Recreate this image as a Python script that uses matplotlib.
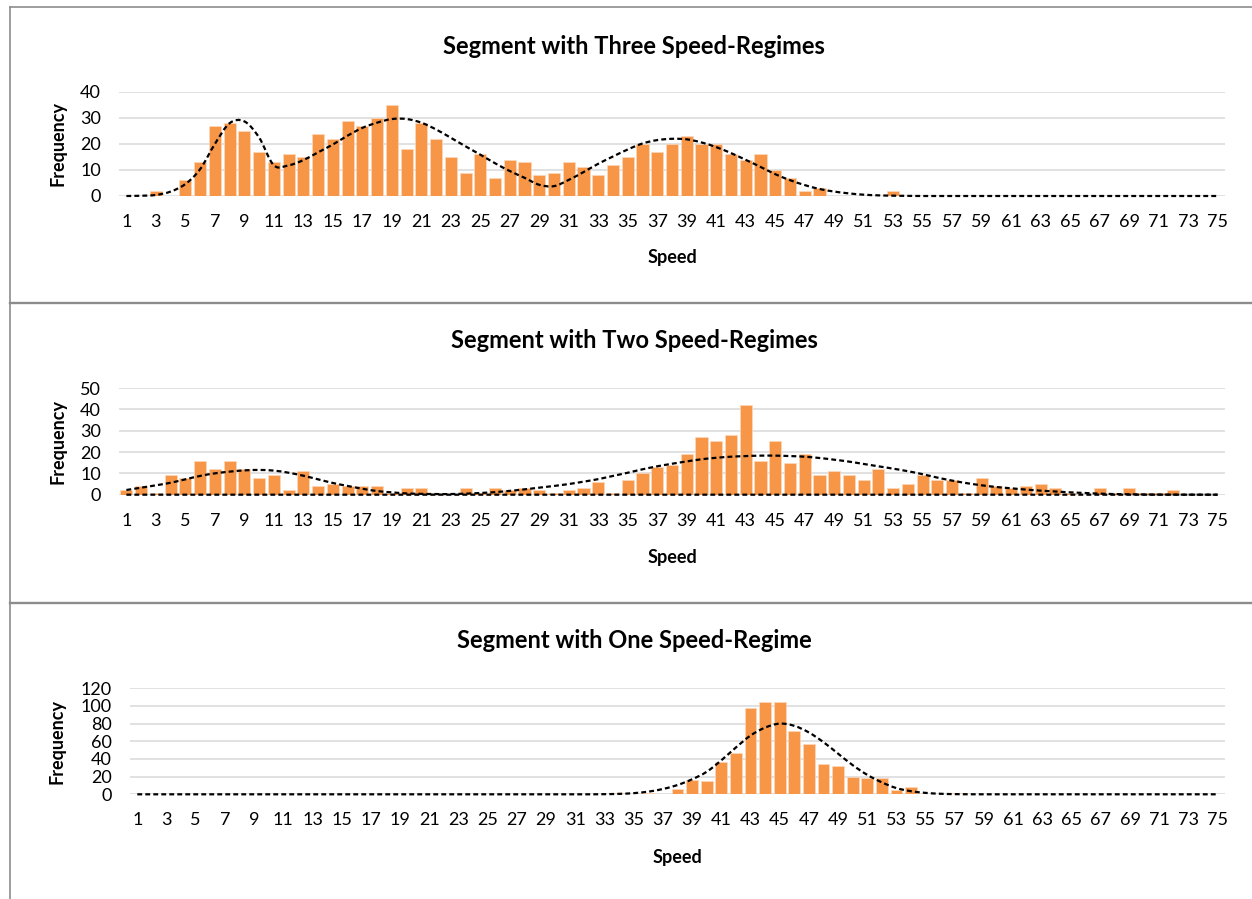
import matplotlib
matplotlib.use("Agg")
import matplotlib.pyplot as plt
from matplotlib.path import Path
from matplotlib.patches import PathPatch
from matplotlib.lines import Line2D

plt.rcParams['font.family'] = ['Lato', 'DejaVu Sans']

# ---------------- data ----------------
speeds = list(range(1, 76))
tick_speeds = list(range(1, 76, 2))

titles = ["Segment with Three Speed-Regimes",
          "Segment with Two Speed-Regimes",
          "Segment with One Speed-Regime"]

three_freq = [0, 0, 2, 0, 6, 13, 27, 28, 25, 17,
              13, 16, 15, 24, 22, 29, 27, 30, 35, 18,
              28, 22, 15, 9, 16, 7, 14, 13, 8, 9,
              13, 11, 8, 12, 15, 20, 17, 20, 23, 20,
              20, 16, 14, 16, 10, 7, 2, 3, 0, 0,
              0, 0, 2, 0, 0, 0, 0, 0, 0, 0,
              0, 0, 0, 0, 0, 0, 0, 0, 0, 0,
              0, 0, 0, 0, 0]
three_fit = [0, 0.1, 0.4, 1.7, 4.6, 10.3, 20.0, 28.0, 28.7, 22.5,
             11.8, 11.8, 13.8, 16.8, 19.8, 23.2, 26.2, 28.2, 29.6, 29.6,
             28.2, 25.6, 22.4, 19.1, 15.9, 12.6, 9.6, 7.0, 4.3, 3.8,
             6.2, 9.2, 12.4, 15.2, 17.9, 20.2, 21.5, 22.0, 21.8, 20.6,
             18.8, 16.5, 13.9, 11.2, 8.4, 6.1, 4.2, 2.7, 1.7, 1.0,
             0.5, 0.25, 0.12, 0.05, 0, 0, 0, 0, 0, 0,
             0, 0, 0, 0, 0, 0, 0, 0, 0, 0,
             0, 0, 0, 0, 0]

two_freq = [2, 4, 1, 9, 8, 16, 12, 16, 12, 8,
            9, 2, 11, 4, 5, 4, 4, 4, 1, 3,
            3, 1, 0, 3, 1, 3, 2, 3, 2, 1,
            2, 3, 6, 1, 7, 10, 13, 14, 19, 27,
            25, 28, 42, 16, 25, 15, 19, 9, 11, 9,
            7, 12, 3, 5, 9, 7, 7, 1, 8, 4,
            3, 4, 5, 3, 1, 0, 3, 1, 3, 1,
            1, 2, 0, 0, 0]
two_fit = [2.2, 3.3, 4.4, 5.6, 7.2, 8.8, 10.0, 10.8, 11.4, 11.6,
           11.3, 10.3, 8.9, 7.2, 5.5, 4.1, 2.8, 1.7, 1.1, 0.6,
           0.4, 0.3, 0.3, 0.5, 0.8, 1.2, 1.8, 2.5, 3.3, 4.1,
           5.0, 6.1, 7.3, 8.8, 10.3, 11.9, 13.3, 14.5, 15.6, 16.6,
           17.3, 17.8, 18.1, 18.3, 18.3, 18.1, 17.8, 17.2, 16.4, 15.5,
           14.4, 13.3, 12.2, 11.0, 9.6, 8.0, 6.6, 5.4, 4.4, 3.6,
           3.0, 2.4, 1.9, 1.5, 1.1, 0.8, 0.5, 0.3, 0.2, 0.1,
           0.05, 0.03, 0.02, 0.01, 0]
two_zero = [0] * 75

one_freq = [0, 0, 0, 0, 0, 0, 0, 0, 0, 0,
            0, 0, 0, 0, 0, 0, 0, 0, 0, 0,
            0, 0, 0, 0, 0, 0, 0, 0, 0, 0,
            0, 0, 0, 2, 0, 1, 0, 6, 16, 15,
            37, 47, 98, 104, 104, 72, 57, 34, 32, 20,
            19, 18, 5, 8, 0, 0, 1, 0, 0, 0,
            0, 0, 0, 0, 0, 0, 0, 0, 0, 0,
            0, 0, 0, 0, 0]
one_fit = [0, 0, 0, 0, 0, 0, 0, 0, 0, 0,
           0, 0, 0, 0, 0, 0, 0, 0, 0, 0,
           0, 0, 0, 0, 0, 0, 0, 0, 0, 0,
           0, 0, 0.15, 0.5, 1.3, 3.0, 6.0, 10.5, 17.0, 25.5,
           38.5, 53.0, 66.5, 75.5, 80.0, 77.5, 70.0, 59.0, 46.0, 33.0,
           22.0, 13.5, 7.0, 3.5, 1.6, 0.6, 0.2, 0.05, 0, 0,
           0, 0, 0, 0, 0, 0, 0, 0, 0, 0,
           0, 0, 0, 0, 0]

y_ticks = [list(range(0, 41, 10)), list(range(0, 51, 10)), list(range(0, 121, 20))]

# ---------------- layout (pixels) ----------------
W, H = 1252, 899
fig = plt.figure(figsize=(W / 100, H / 100), dpi=100)

def fx(px):
    return px / W

def fy(py):
    return 1 - py / H

# (left, right, top(px of max), bottom(px of zero))
boxes = [(119, 1225, 92, 196), (119, 1225, 388, 494.7), (130, 1225, 688.3, 794.3)]
title_y = [46, 341, 641]
xlabel_y = [258, 557, 857]
ylabel_x = [58, 58, 57]

ORANGE = '#F79646'
GRID = '#D9D9D9'


def smooth_path(xs, ys):
    verts = [(xs[0], ys[0])]
    codes = [Path.MOVETO]
    n = len(xs)
    for i in range(n - 1):
        xa, ya = (xs[i - 1], ys[i - 1]) if i > 0 else (xs[i], ys[i])
        xd, yd = (xs[i + 2], ys[i + 2]) if i + 2 < n else (xs[i + 1], ys[i + 1])
        c1 = (xs[i] + (xs[i + 1] - xa) / 6, ys[i] + (ys[i + 1] - ya) / 6)
        c2 = (xs[i + 1] - (xd - xs[i]) / 6, ys[i + 1] - (yd - ys[i]) / 6)
        verts += [c1, c2, (xs[i + 1], ys[i + 1])]
        codes += [Path.CURVE4] * 3
    return Path(verts, codes)


freqs = [three_freq, two_freq, one_freq]
fits = [[three_fit], [two_fit, two_zero], [one_fit]]

for k in range(3):
    l, r, t, b = boxes[k]
    ax = fig.add_axes([fx(l), fy(b), fx(r) - fx(l), fy(t) - fy(b)])
    ax.bar(speeds, freqs[k], width=0.82, color=ORANGE, edgecolor='#FBD9BD',
           linewidth=0.5, zorder=2)
    for f in fits[k]:
        ax.add_patch(PathPatch(smooth_path(speeds, f), fill=False,
                               edgecolor='black', linewidth=1.6,
                               linestyle=(0, (2.2, 1.4)), zorder=3,
                               clip_on=False))
    ax.set_xlim(0.5, 75.5)
    ax.set_ylim(0, y_ticks[k][-1])
    ax.set_yticks(y_ticks[k])
    ax.set_xticks(tick_speeds)
    ax.set_xticklabels([str(s) for s in tick_speeds])
    ax.yaxis.grid(True, color=GRID, linewidth=1.1, zorder=0)
    ax.set_axisbelow(True)
    for s in ax.spines.values():
        s.set_visible(False)
    ax.tick_params(axis='both', length=0, labelsize=13, colors='#000000')
    ax.tick_params(axis='y', pad=13)
    ax.tick_params(axis='x', pad=13)
    ax.set_facecolor('none')

    fig.text(fx(634), fy(title_y[k]), titles[k], ha='center', va='center',
             fontsize=17, fontweight='bold')
    fig.text(fx((l + r) / 2), fy(xlabel_y[k]), "Speed", ha='center', va='center',
             fontsize=13, fontweight='bold')
    fig.text(fx(ylabel_x[k]), fy((t + b) / 2), "Frequency", ha='center', va='center',
             rotation=90, fontsize=13, fontweight='bold')

# ---------------- panel borders ----------------
BORDER = '#8C8C8C'
fig.add_artist(Line2D([fx(10), fx(1252)], [fy(7), fy(7)], color=BORDER, lw=1.2))
fig.add_artist(Line2D([fx(10), fx(10)], [fy(7), fy(899)], color=BORDER, lw=1.2))
for yy in (303, 603):
    fig.add_artist(Line2D([fx(10), fx(1252)], [fy(yy), fy(yy)], color=BORDER, lw=1.7))

fig.savefig("out.png", dpi=100, facecolor='white')
